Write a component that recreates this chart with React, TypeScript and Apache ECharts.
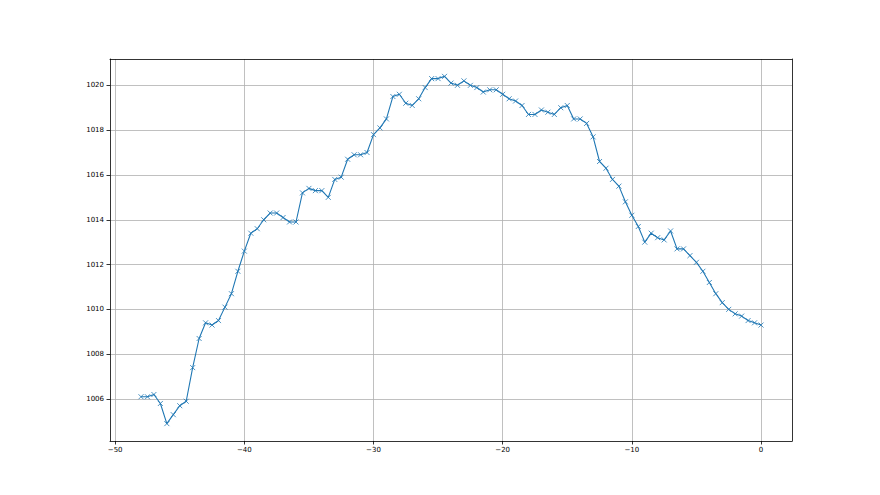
import React, { useEffect, useRef } from "react";
import * as echarts from "echarts";

const hours: number[] = [
  -48, -47.5, -47, -46.5, -46, -45.5, -45, -44.5, -44, -43.5, -43, -42.5, -42, -41.5, -41, -40.5,
  -40, -39.5, -39, -38.5, -38, -37.5, -37, -36.5, -36, -35.5, -35, -34.5, -34, -33.5, -33, -32.5,
  -32, -31.5, -31, -30.5, -30, -29.5, -29, -28.5, -28, -27.5, -27, -26.5, -26, -25.5, -25, -24.5,
  -24, -23.5, -23, -22.5, -22, -21.5, -21, -20.5, -20, -19.5, -19, -18.5, -18, -17.5, -17, -16.5,
  -16, -15.5, -15, -14.5, -14, -13.5, -13, -12.5, -12, -11.5, -11, -10.5, -10, -9.5, -9, -8.5,
  -8, -7.5, -7, -6.5, -6, -5.5, -5, -4.5, -4, -3.5, -3, -2.5, -2, -1.5, -1, -0.5, 0,
];

const pressure: number[] = [
  1006.1, 1006.1, 1006.2, 1005.8, 1004.9, 1005.3, 1005.7, 1005.9, 1007.4, 1008.7, 1009.4, 1009.3,
  1009.5, 1010.1, 1010.7, 1011.7, 1012.6, 1013.4, 1013.6, 1014.0, 1014.3, 1014.3, 1014.1, 1013.9,
  1013.9, 1015.2, 1015.4, 1015.3, 1015.3, 1015.0, 1015.8, 1015.9, 1016.7, 1016.9, 1016.9, 1017.0,
  1017.8, 1018.1, 1018.5, 1019.5, 1019.6, 1019.2, 1019.1, 1019.4, 1019.9, 1020.3, 1020.3, 1020.4,
  1020.1, 1020.0, 1020.2, 1020.0, 1019.9, 1019.7, 1019.8, 1019.8, 1019.6, 1019.4, 1019.3, 1019.1,
  1018.7, 1018.7, 1018.9, 1018.8, 1018.7, 1019.0, 1019.1, 1018.5, 1018.5, 1018.3, 1017.7, 1016.6,
  1016.3, 1015.8, 1015.5, 1014.8, 1014.2, 1013.7, 1013.0, 1013.4, 1013.2, 1013.1, 1013.5, 1012.7,
  1012.7, 1012.4, 1012.1, 1011.7, 1011.2, 1010.7, 1010.3, 1010.0, 1009.8, 1009.7, 1009.5, 1009.4,
  1009.3,
];

const xTicks: number[] = [-50, -40, -30, -20, -10, 0];
const yTicks: number[] = [1006, 1008, 1010, 1012, 1014, 1016, 1018, 1020];

const fmt = (v: number) => (v < 0 ? "\u2212" + Math.abs(v) : String(v));

export default function App() {
  const ref = useRef<HTMLDivElement>(null);
  useEffect(() => {
    if (!ref.current) return;
    const chart = echarts.init(ref.current, null, { renderer: "svg" });
    const labelStyle = {
      fontFamily: "DejaVu Sans",
      fontSize: 7,
      color: "#000",
    };
    const gridLine = { show: true, lineStyle: { color: "#b0b0b0", width: 0.8 } };
    const spine = { show: true, onZero: false, lineStyle: { color: "#000", width: 0.8 } };
    chart.setOption({
      animation: false,
      backgroundColor: "#fff",
      grid: { left: 110, right: 88, top: 59, bottom: 54, containLabel: false },
      xAxis: [
        {
          type: "value",
          min: -50.4,
          max: 2.4,
          position: "bottom",
          axisLine: spine,
          axisTick: { show: true, length: 3.5, inside: false, customValues: xTicks, lineStyle: { color: "#000", width: 0.8 } },
          axisLabel: { ...labelStyle, customValues: xTicks, margin: 5, formatter: fmt },
          splitLine: gridLine,
        },
        {
          type: "value",
          min: -50.4,
          max: 2.4,
          position: "top",
          axisLine: spine,
          axisTick: { show: false },
          axisLabel: { show: false },
          splitLine: { show: false },
        },
      ],
      yAxis: [
        {
          type: "value",
          min: 1004.125,
          max: 1021.175,
          position: "left",
          axisLine: spine,
          axisTick: { show: true, length: 3.5, inside: false, customValues: yTicks, lineStyle: { color: "#000", width: 0.8 } },
          axisLabel: { ...labelStyle, customValues: yTicks, margin: 6, formatter: fmt },
          splitLine: gridLine,
        },
        {
          type: "value",
          min: 1004.125,
          max: 1021.175,
          position: "right",
          axisLine: spine,
          axisTick: { show: false },
          axisLabel: { show: false },
          splitLine: { show: false },
        },
      ],
      series: [
        {
          type: "line",
          xAxisIndex: 0,
          yAxisIndex: 0,
          data: hours.map((h, i) => [h, pressure[i]]),
          lineStyle: { color: "#1f77b4", width: 1.1 },
          symbol: "path://M0,0L10,10M10,0L0,10",
          symbolSize: 5,
          showSymbol: true,
          itemStyle: { color: "#1f77b4", borderColor: "#1f77b4", borderWidth: 0.8 },
          emphasis: { disabled: true },
        },
      ],
    });
    return () => chart.dispose();
  }, []);
  return (
    <div
      ref={ref}
      style={{ position: "fixed", left: 0, top: 0, width: 880, height: 495, background: "#fff" }}
    />
  );
}
